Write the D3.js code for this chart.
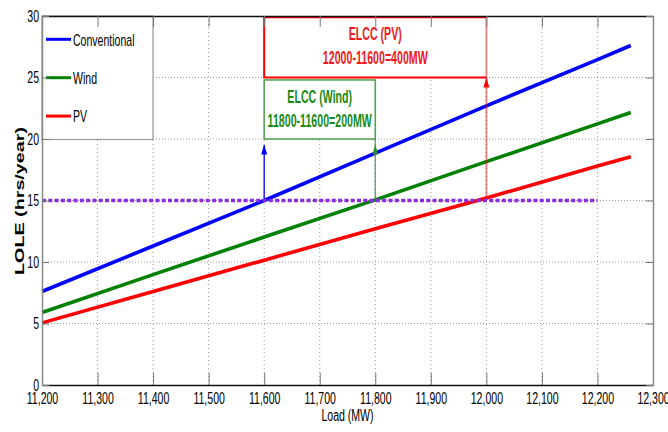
<!DOCTYPE html>
<html>
<head>
<meta charset="utf-8">
<script src="https://cdn.jsdelivr.net/npm/d3@7"></script>
<style>
  body { margin: 0; background: #fff; }
  svg { display: block; }
</style>
</head>
<body>
<svg id="chart" width="668" height="432"></svg>
<script>
// LOLE versus system load for each added resource
const loads        = [11200, 11400, 11600, 11800, 12000, 12200, 12260];
const conventional = [7.6, 11.3, 15.0, 18.85, 22.7, 26.45, 27.6];
const wind         = [5.9, 8.97, 12.03, 15.05, 18.16, 21.23, 22.15];
const pv           = [5.05, 7.6, 10.15, 12.7, 15.2, 17.8, 18.55];

const seriesNames  = ["Conventional", "Wind", "PV"];
const seriesValues = [conventional, wind, pv];
const seriesColors = ["#0000ff", "#008000", "#ff0000"];

const xTicks = [11200, 11300, 11400, 11500, 11600, 11700, 11800, 11900, 12000, 12100, 12200, 12300];
const yTicks = [0, 5, 10, 15, 20, 25, 30];

// reliability target and load-carrying capability results
const targetLOLE  = 15;
const targetLoads = [11200, 12200];
const baseLoad    = 11600;
const elccNames   = ["Wind", "PV"];
const elccLoads   = [11800, 12000];

const svg = d3.select("#chart");
const m = { left: 42, right: 653, top: 16, bottom: 385 };
const x = d3.scaleLinear().domain([11200, 12300]).range([m.left, m.right]);
const y = d3.scaleLinear().domain([0, 30]).range([m.bottom, m.top]);

const FONT = "'Liberation Sans', Arial, sans-serif";

// condense text horizontally (tall narrow lettering)
function squeeze(sel, k) {
  sel.each(function () {
    const len = this.getComputedTextLength();
    d3.select(this).attr("textLength", len * k).attr("lengthAdjust", "spacingAndGlyphs");
  });
}

// grid
const grid = svg.append("g");
grid.selectAll("line.gx").data(xTicks.slice(1, -1)).join("line")
  .attr("x1", d => x(d)).attr("x2", d => x(d))
  .attr("y1", m.top).attr("y2", m.bottom)
  .attr("stroke", "#9a9a9a").attr("stroke-width", 1).attr("stroke-dasharray", "1,3");
grid.selectAll("line.gy").data(yTicks.slice(1, -1)).join("line")
  .attr("x1", m.left).attr("x2", m.right)
  .attr("y1", d => y(d)).attr("y2", d => y(d))
  .attr("stroke", "#9a9a9a").attr("stroke-width", 1).attr("stroke-dasharray", "1,2");

// series lines
const line = d3.line().x(d => x(d[0])).y(d => y(d[1]));
seriesValues.forEach((vals, i) => {
  svg.append("path")
    .datum(loads.map((l, j) => [l, vals[j]]))
    .attr("d", line)
    .attr("fill", "none")
    .attr("stroke", seriesColors[i])
    .attr("stroke-width", 3.6);
});

// arrowhead helper (tip at given data point)
function arrowHead(load, val, color) {
  const px = x(load), py = y(val);
  svg.append("path")
    .attr("d", `M${px},${py} L${px - 3},${py + 10} L${px + 3},${py + 10} Z`)
    .attr("fill", color);
}

// annotation boxes
const boxTop = [24.8, 29.9];
const boxBottom = [20, 25];
const boxColors = ["#2a8f2a", "#ff0000"];
const textColors = ["#168a16", "#f01818"];

// Wind box
svg.append("rect")
  .attr("x", x(baseLoad)).attr("y", y(boxTop[0]))
  .attr("width", x(elccLoads[0]) - x(baseLoad))
  .attr("height", y(boxBottom[0]) - y(boxTop[0]))
  .attr("fill", "#fff").attr("stroke", boxColors[0]).attr("stroke-opacity", 0.8).attr("stroke-width", 1.6);

// PV box (right side drawn by the vertical marker line)
svg.append("rect")
  .attr("x", x(baseLoad)).attr("y", y(boxTop[1]))
  .attr("width", x(elccLoads[1]) - x(baseLoad))
  .attr("height", y(boxBottom[1]) - y(boxTop[1]))
  .attr("fill", "#fff").attr("stroke", "none");
svg.append("path")
  .attr("d", `M${x(elccLoads[1])},${y(boxTop[1])} H${x(baseLoad)} V${y(boxBottom[1])} H${x(elccLoads[1])}`)
  .attr("fill", "none").attr("stroke", boxColors[1]).attr("stroke-width", 2);

// box labels
elccNames.forEach((name, i) => {
  const cx = (x(baseLoad) + x(elccLoads[i])) / 2;
  const topPx = y(boxTop[i]);
  const t1 = svg.append("text")
    .attr("x", cx).attr("y", topPx + 23)
    .attr("text-anchor", "middle")
    .style("font", `bold 18px ${FONT}`).attr("fill", textColors[i])
    .text(`ELCC (${name})`);
  const t2 = svg.append("text")
    .attr("x", cx).attr("y", topPx + 47)
    .attr("text-anchor", "middle")
    .style("font", `bold 18px ${FONT}`).attr("fill", textColors[i])
    .text(`${elccLoads[i]}-${baseLoad}=${elccLoads[i] - baseLoad}MW`);
  squeeze(t1, 0.59);
  squeeze(t2, 0.59);
});

// vertical markers with arrows
svg.append("line")
  .attr("x1", x(baseLoad)).attr("x2", x(baseLoad))
  .attr("y1", y(targetLOLE)).attr("y2", y(boxBottom[0]) + 6)
  .attr("stroke", "#0000ff").attr("stroke-width", 1.3);
arrowHead(baseLoad, boxBottom[0] - 0.45, "#0000ff");

svg.append("line")
  .attr("x1", x(elccLoads[0])).attr("x2", x(elccLoads[0]))
  .attr("y1", y(targetLOLE)).attr("y2", y(boxBottom[0]))
  .attr("stroke", "#2a8f2a").attr("stroke-opacity", 0.7).attr("stroke-width", 1.5);
arrowHead(elccLoads[0], boxBottom[0] - 0.45, "#2a8f2a");

svg.append("line")
  .attr("x1", x(elccLoads[1])).attr("x2", x(elccLoads[1]))
  .attr("y1", y(targetLOLE)).attr("y2", y(boxTop[1]))
  .attr("stroke", "#ff0000").attr("stroke-opacity", 0.45).attr("stroke-width", 2);
arrowHead(elccLoads[1], boxBottom[1], "#ff0000");

// LOLE target line
svg.append("line")
  .attr("x1", x(targetLoads[0])).attr("x2", x(targetLoads[1]))
  .attr("y1", y(targetLOLE)).attr("y2", y(targetLOLE))
  .attr("stroke", "#8a2be2").attr("stroke-width", 3.4).attr("stroke-dasharray", "4,2.3");

// legend
const lg = svg.append("g");
lg.append("rect")
  .attr("x", m.left).attr("y", m.top)
  .attr("width", 111).attr("height", 123.5)
  .attr("fill", "#fff").attr("stroke", "#999").attr("stroke-width", 1.2);
seriesNames.forEach((name, i) => {
  const ly = 39.3 + i * 38.4;
  lg.append("line")
    .attr("x1", 46).attr("x2", 71).attr("y1", ly).attr("y2", ly)
    .attr("stroke", seriesColors[i]).attr("stroke-width", 3);
  const t = lg.append("text")
    .attr("x", 73).attr("y", ly + 6.3)
    .style("font", `17px ${FONT}`).attr("fill", "#000")
    .text(name);
  squeeze(t, 0.62);
});

// axes (ticks pointing inward)
const xAxis = svg.append("g").attr("transform", `translate(0,${m.bottom})`)
  .call(d3.axisBottom(x).tickValues(xTicks).tickFormat(d3.format(","))
    .tickSizeInner(-12).tickSizeOuter(0).tickPadding(7));
const xTop = svg.append("g").attr("transform", `translate(0,${m.top})`)
  .call(d3.axisTop(x).tickValues(xTicks).tickFormat("").tickSizeInner(-11).tickSizeOuter(0));
const yAxis = svg.append("g").attr("transform", `translate(${m.left},0)`)
  .call(d3.axisLeft(y).tickValues(yTicks).tickSizeInner(-7).tickSizeOuter(0).tickPadding(3));
const yRight = svg.append("g").attr("transform", `translate(${m.right},0)`)
  .call(d3.axisRight(y).tickValues(yTicks).tickFormat("").tickSizeInner(-7).tickSizeOuter(0));

[xAxis, xTop].forEach(g => {
  g.select(".domain").attr("stroke", "#111").attr("stroke-width", 1.4);
  g.selectAll(".tick line").attr("stroke", "#777");
});
[yAxis, yRight].forEach(g => {
  g.select(".domain").attr("stroke", "#888").attr("stroke-width", 1.5);
  g.selectAll(".tick line").attr("stroke", "#777");
});
xAxis.selectAll(".tick text").style("font", `17px ${FONT}`).attr("fill", "#000");
yAxis.selectAll(".tick text").style("font", `17px ${FONT}`).attr("fill", "#000");
squeeze(xAxis.selectAll(".tick text"), 0.62);
squeeze(yAxis.selectAll(".tick text"), 0.62);

// axis titles
const xt = svg.append("text")
  .attr("x", (m.left + m.right) / 2).attr("y", 421)
  .attr("text-anchor", "middle")
  .style("font", `16px ${FONT}`).attr("fill", "#000")
  .text("Load (MW)");
squeeze(xt, 0.66);

svg.append("text")
  .attr("transform", `translate(24,201) rotate(-90)`)
  .attr("text-anchor", "middle")
  .style("font", `bold 13px ${FONT}`).attr("fill", "#000")
  .attr("textLength", 148).attr("lengthAdjust", "spacingAndGlyphs")
  .text("LOLE (hrs/year)");
</script>
</body>
</html>
